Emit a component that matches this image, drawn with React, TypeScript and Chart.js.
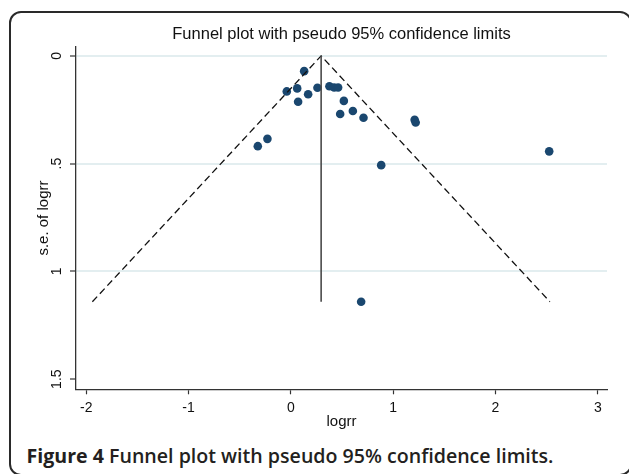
import React, { useEffect, useRef } from "react";
import { Chart, registerables } from "chart.js";

Chart.register(...registerables);

// Study estimates (log relative risk) and their standard errors
const logrr = [0.13, -0.04, 0.062, 0.071, 0.169, 0.26, 0.377, 0.423, 0.462, 0.518, 0.482, 0.606, 0.71, 1.21, 1.22, -0.229, -0.323, 0.883, 2.525, 0.687];
const seLogrr = [0.071, 0.165, 0.151, 0.213, 0.178, 0.148, 0.141, 0.147, 0.147, 0.209, 0.27, 0.256, 0.287, 0.297, 0.309, 0.385, 0.419, 0.507, 0.443, 1.141];

// Pooled estimate line
const pooledX = [0.296, 0.296];
const pooledY = [0, 1.141];

// Pseudo 95% confidence limits
const limitX = [-1.94, 0.296, 2.532];
const limitY = [1.141, 0, 1.141];

const xTicks = [-2, -1, 0, 1, 2, 3];
const xTickLabels = ["-2", "-1", "0", "1", "2", "3"];
const yTicks = [0, 0.5, 1, 1.5];
const yTickLabels = ["0", ".5", "1", "1.5"];
const yGridValues = [0, 0.5, 1];

const chartTitle = "Funnel plot with pseudo 95% confidence limits";
const xTitle = "logrr";
const yTitle = "s.e. of logrr";

const FONT = '"Liberation Sans", Arial, Helvetica, sans-serif';

const yTickLabelPlugin = {
  id: "yTickLabelsRotated",
  afterDraw(chart: any) {
    const s = chart.scales.y;
    const ctx = chart.ctx;
    ctx.save();
    ctx.font = `14px ${FONT}`;
    ctx.fillStyle = "#111";
    ctx.textAlign = "center";
    ctx.textBaseline = "middle";
    s.ticks.forEach((t: any, i: number) => {
      const y = s.getPixelForValue(t.value);
      ctx.save();
      ctx.translate(s.right - 18.5, y);
      ctx.rotate(-Math.PI / 2);
      ctx.fillText(yTickLabels[i], 0, 0);
      ctx.restore();
    });
    ctx.restore();
  },
};

function FunnelChart() {
  const ref = useRef<HTMLCanvasElement | null>(null);
  useEffect(() => {
    if (!ref.current) return;
    const chart = new Chart(ref.current, {
      type: "scatter",
      data: {
        datasets: [
          {
            data: pooledX.map((x, i) => ({ x, y: pooledY[i] })),
            showLine: true,
            borderColor: "#4a4a4a",
            borderWidth: 1.6,
            pointRadius: 0,
          },
          {
            data: limitX.map((x, i) => ({ x, y: limitY[i] })),
            showLine: true,
            borderColor: "#111",
            borderWidth: 1.3,
            borderDash: [7, 4],
            pointRadius: 0,
          },
          {
            data: logrr.map((x, i) => ({ x, y: seLogrr[i] })),
            pointRadius: 4.3,
            backgroundColor: "#1a476f",
            borderWidth: 0,
          },
        ],
      },
      options: {
        responsive: false,
        animation: false,
        layout: { padding: { left: 0, right: 22, top: 0, bottom: 0 } },
        plugins: {
          legend: { display: false },
          tooltip: { enabled: false },
          title: {
            display: true,
            text: chartTitle,
            fullSize: false,
            color: "#111",
            font: { family: FONT, size: 16.5, weight: "normal" },
            padding: { top: 25, bottom: 2 },
          },
        },
        scales: {
          x: {
            type: "linear",
            min: -2.1,
            max: 3.09,
            afterBuildTicks: (s: any) => {
              s.ticks = xTicks.map((v) => ({ value: v }));
            },
            afterFit: (s: any) => {
              s.height = 50.7;
            },
            grid: { drawOnChartArea: false, tickLength: 5, tickColor: "#333", tickWidth: 1.2 },
            border: { display: true, color: "#333", width: 1.3 },
            ticks: {
              padding: 5.6,
              color: "#111",
              font: { family: FONT, size: 14 },
              callback: (_v: any, i: number) => xTickLabels[i],
            },
            title: {
              display: true,
              text: xTitle,
              color: "#111",
              font: { family: FONT, size: 15 },
              padding: { top: 0, bottom: 9.5 },
            },
          },
          y: {
            type: "linear",
            reverse: true,
            min: -0.042,
            max: 1.547,
            afterBuildTicks: (s: any) => {
              s.ticks = yTicks.map((v) => ({ value: v }));
            },
            afterFit: (s: any) => {
              s.width = 76;
            },
            grid: {
              color: (ctx: any) => (ctx.tick && yGridValues.includes(ctx.tick.value) ? "#e3eef0" : "rgba(0,0,0,0)"),
              lineWidth: 2,
              tickLength: 6,
              tickColor: "#333",
              tickWidth: 1.2,
            },
            border: { display: true, color: "#333", width: 1.3 },
            ticks: {
              color: "rgba(0,0,0,0)",
              font: { family: FONT, size: 13 },
              callback: (_v: any, i: number) => yTickLabels[i],
            },
            title: {
              display: true,
              text: yTitle,
              color: "#111",
              font: { family: FONT, size: 15 },
              padding: { top: 35.3, bottom: 0 },
            },
          },
        },
      },
      plugins: [yTickLabelPlugin],
    } as any);
    return () => chart.destroy();
  }, []);
  return <canvas ref={ref} width={629} height={440} style={{ position: "absolute", left: 0, top: 0, width: 629, height: 440 }} />;
}

export default function App() {
  return (
    <div style={{ position: "fixed", left: 0, top: 0, width: 629, height: 474, background: "#fff", overflow: "hidden" }}>
      <div
        style={{
          position: "absolute",
          left: 9,
          top: 11,
          width: 623,
          height: 465,
          boxSizing: "border-box",
          border: "2px solid #2a2a2a",
          borderRadius: 12,
        }}
      />
      <FunnelChart />
      <div
        style={{
          position: "absolute",
          left: 26.5,
          top: 446,
          whiteSpace: "nowrap",
          fontFamily: '"Open Sans", sans-serif',
          fontSize: 19.6,
          lineHeight: "20px",
          color: "#231f20",
        }}
      >
        <span style={{ fontWeight: 700 }}>Figure 4</span>
        <span style={{ fontWeight: 600 }}> Funnel plot with pseudo 95% confidence limits.</span>
      </div>
    </div>
  );
}
